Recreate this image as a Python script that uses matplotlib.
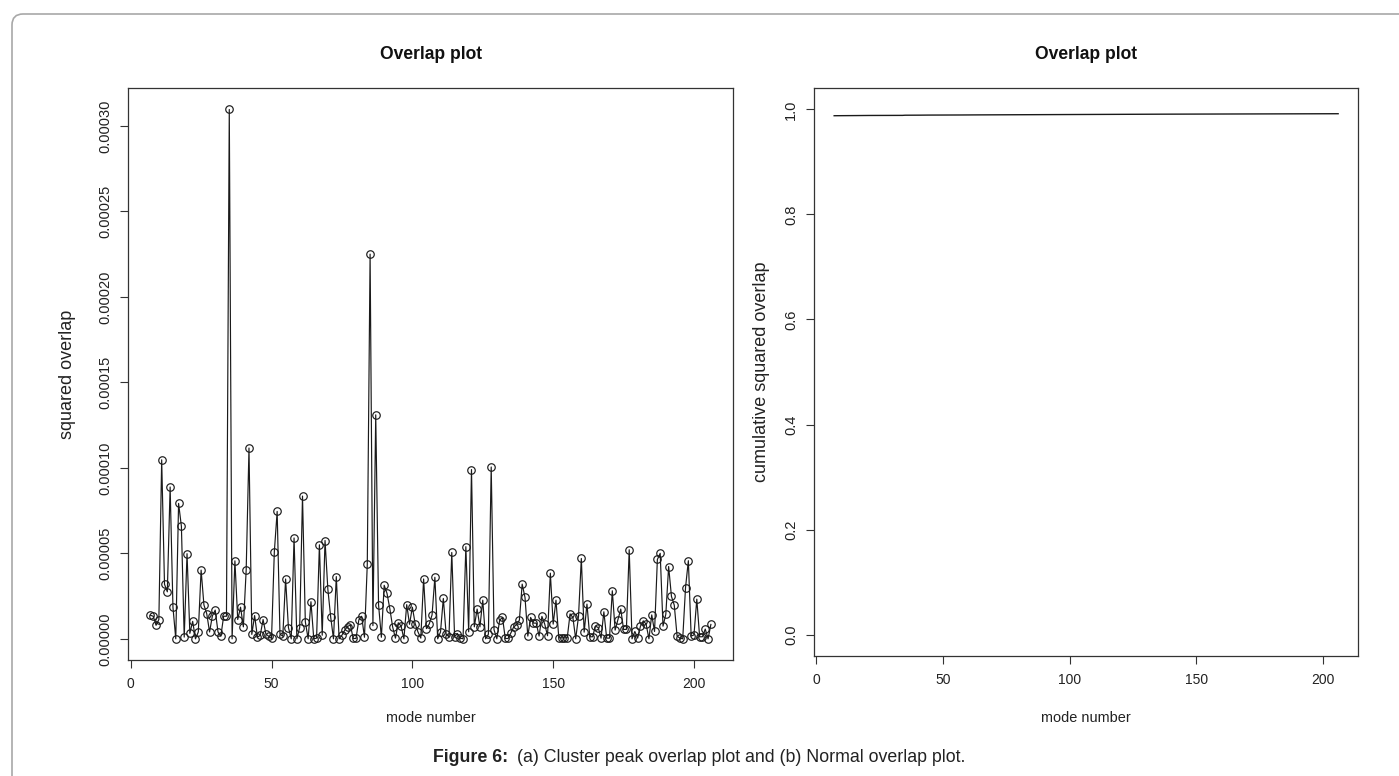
import numpy as np
import matplotlib
matplotlib.use("Agg")
import matplotlib.pyplot as plt
from matplotlib import font_manager
from matplotlib.patches import FancyBboxPatch
from matplotlib.transforms import IdentityTransform

# ---------------- data ----------------
modes = list(range(7, 207))
# squared overlap per mode, in units of 1e-6
squared_overlap_e6 = [
    13.8, 13.2, 7.9, 11.3, 104.7, 31.9, 27.5, 88.8, 18.5, 0.0,      # 7-16
    79.2, 65.8, 1.0, 49.8, 3.2, 10.2, 0.0, 4.0, 40.2, 19.8,         # 17-26
    14.7, 4.0, 13.4, 16.8, 4.0, 1.5, 13.2, 13.2, 309.6, 0.0,        # 27-36
    45.6, 11.3, 18.5, 7.0, 40.2, 111.6, 2.6, 13.6, 0.9, 2.1,        # 37-46
    11.3, 2.8, 1.5, 0.2, 51.0, 74.5, 2.8, 1.5, 35.0, 6.6,           # 47-56
    0.0, 59.0, 0.0, 6.6, 83.5, 10.0, 0.0, 21.7, 0.0, 0.4,           # 57-66
    55.0, 2.1, 57.5, 29.0, 12.8, 0.0, 36.4, 0.0, 2.1, 5.1,          # 67-76
    7.2, 8.1, 0.2, 0.2, 11.1, 13.2, 0.9, 43.6, 225.0, 7.7,          # 77-86
    131.0, 20.0, 0.9, 31.3, 26.6, 17.7, 7.0, 0.4, 9.4, 7.5,         # 87-96
    0.0, 20.0, 8.5, 18.5, 8.9, 4.0, 0.4, 35.0, 6.0, 8.7,            # 97-106
    14.0, 36.0, 0.0, 4.0, 23.6, 2.7, 1.2, 50.5, 1.2, 3.1,           # 107-116
    0.4, 0.0, 53.9, 4.1, 99.0, 7.0, 17.4, 7.0, 22.6, 0.0,           # 117-126
    2.7, 100.5, 5.3, 0.0, 10.9, 12.5, 0.2, 0.2, 3.5, 7.0,           # 127-136
    8.2, 10.9, 32.0, 24.2, 1.6, 12.5, 9.2, 9.2, 1.6, 13.1,          # 137-146
    8.6, 1.8, 38.4, 8.6, 22.6, 0.6, 0.6, 0.6, 0.6, 14.6,            # 147-156
    12.5, 0.0, 13.1, 47.0, 3.9, 20.3, 1.2, 1.2, 7.4, 6.6,           # 157-166
    0.4, 15.8, 0.4, 0.4, 28.1, 5.1, 11.3, 17.4, 5.5, 5.5,           # 167-176
    52.1, 0.0, 4.3, 0.4, 7.4, 10.5, 8.6, 0.0, 14.0, 4.3,            # 177-186
    46.4, 50.0, 7.4, 14.4, 42.3, 24.8, 19.7, 1.6, 0.4, 0.0,         # 187-196
    30.0, 45.7, 1.6, 2.3, 23.2, 1.2, 1.2, 5.7, 0.0, 8.4,            # 197-206
]
squared_overlap = np.array(squared_overlap_e6) * 1e-6

# cumulative squared overlap: value read at the first mode, then running sum
cumulative_first = 0.9878
cumulative = cumulative_first - squared_overlap[0] + np.cumsum(squared_overlap)

x_ticks = [0, 50, 100, 150, 200]
x_tick_labels = ["0", "50", "100", "150", "200"]
left_y_ticks = [0.0, 0.00005, 0.00010, 0.00015, 0.00020, 0.00025, 0.00030]
left_y_tick_labels = ["0.00000", "0.00005", "0.00010", "0.00015",
                      "0.00020", "0.00025", "0.00030"]
right_y_ticks = [0.0, 0.2, 0.4, 0.6, 0.8, 1.0]
right_y_tick_labels = ["0.0", "0.2", "0.4", "0.6", "0.8", "1.0"]

title_text = "Overlap plot"
xlabel_text = "mode number"
left_ylabel_text = "squared overlap"
right_ylabel_text = "cumulative squared overlap"
caption_bold = "Figure 6:"
caption_rest = "(a) Cluster peak overlap plot and (b) Normal overlap plot."

# ---------------- fonts ----------------
names = {f.name for f in font_manager.fontManager.ttflist}
REG = "Liberation Sans"
if "Liberation Sans Narrow" in names:
    NAR, nscale = "Liberation Sans Narrow", 1.0
else:
    NAR, nscale = "Liberation Sans", 0.87

INK = "#1a1a1a"
TXT = "#222222"
BOX = "#333333"

W, H = 1399, 776
fig = plt.figure(figsize=(W / 100, H / 100), dpi=100)
fig.patch.set_facecolor("white")


def frac(x0, y0, x1, y1):
    return [x0 / W, 1 - y1 / H, (x1 - x0) / W, (y1 - y0) / H]


L_BOX = (128, 88.3, 733.3, 660)
R_BOX = (814, 88.3, 1358.3, 655.7)
ax1 = fig.add_axes(frac(*L_BOX))
ax2 = fig.add_axes(frac(*R_BOX))

# left: squared overlap (type "o")
ax1.plot(modes, squared_overlap, color=INK, lw=0.85, marker="o", ms=5.4,
         mfc="none", mec=INK, mew=0.85)
xr = modes[-1] - modes[0]
xlim = (modes[0] - 0.04 * xr, modes[-1] + 0.04 * xr)
ymax = squared_overlap.max()
ax1.set_xlim(*xlim)
ax1.set_ylim(-0.04 * ymax, 1.04 * ymax)

# right: cumulative squared overlap
ax2.plot(modes, cumulative, color=INK, lw=1.0)
ax2.set_xlim(*xlim)
ax2.set_ylim(-0.04, 1.04)

for ax, yt, ytl in ((ax1, left_y_ticks, left_y_tick_labels),
                    (ax2, right_y_ticks, right_y_tick_labels)):
    for s in ax.spines.values():
        s.set_color(BOX)
        s.set_linewidth(0.9)
    ax.tick_params(direction="out", length=5.8, width=0.8, color=BOX,
                   labelcolor=TXT)
    ax.tick_params(axis="x", pad=6.5)
    ax.tick_params(axis="y", pad=5.5)
    ax.set_xticks(x_ticks)
    ax.set_xticklabels(x_tick_labels, family=NAR, fontsize=11.5 * nscale)
    ax.set_yticks(yt)
    ax.set_yticklabels(ytl, family=REG, fontsize=10.5, rotation=90,
                       va="center")

# axis labels and titles
for ax, box, ylab, ylab_x in ((ax1, L_BOX, left_ylabel_text, 68),
                              (ax2, R_BOX, right_ylabel_text, 762)):
    bw = box[2] - box[0]
    bh = box[3] - box[1]
    ax.set_xlabel(xlabel_text, family=NAR, fontsize=12 * nscale, color=TXT)
    ax.xaxis.set_label_coords(0.5, (box[3] - 718) / bh)
    ax.xaxis.label.set_va("center")
    ax.set_ylabel(ylab, family=REG, fontsize=13, color=TXT)
    ax.yaxis.set_label_coords((ylab_x - box[0]) / bw, 0.5)
    ax.yaxis.label.set_va("center")
    cx = (box[0] + box[2]) / 2
    fig.text(cx / W, 1 - 59 / H, title_text, ha="center", va="baseline",
             family=NAR, fontweight="bold", fontsize=14.5 * nscale,
             color="#111111")

# caption (bold lead + regular text), centred
cap_y = 1 - 762 / H
t1 = fig.text(0, cap_y, caption_bold, family=REG, fontweight="bold",
              fontsize=12.8, color=TXT, va="baseline", ha="left")
t2 = fig.text(0, cap_y, caption_rest, family=REG, fontsize=12.8,
              color=TXT, va="baseline", ha="left")
renderer = fig.canvas.get_renderer()
w1 = t1.get_window_extent(renderer).width
w2 = t2.get_window_extent(renderer).width
gap = 9
x0 = 699.0 - (w1 + gap + w2) / 2
t1.set_x(x0 / W)
t2.set_x((x0 + w1 + gap) / W)

# rounded frame (only top-left corner inside the image)
frame = FancyBboxPatch((12, -60), 1500, (H - 14) + 60,
                       boxstyle="round,pad=0,rounding_size=11",
                       transform=IdentityTransform(), fill=False,
                       edgecolor="#a8a8a8", linewidth=1.2)
fig.add_artist(frame)

fig.savefig("out.png", dpi=100, facecolor="white")
